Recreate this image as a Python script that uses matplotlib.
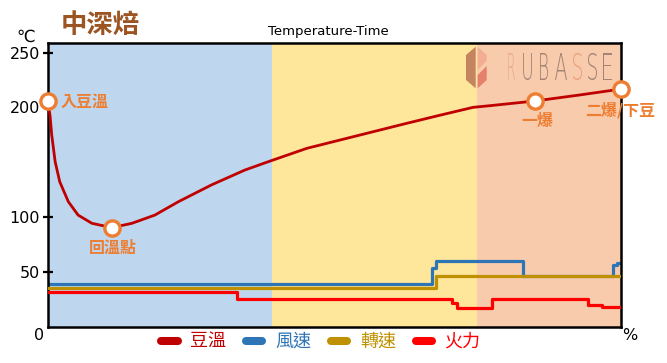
import matplotlib
matplotlib.use("Agg")
import matplotlib.pyplot as plt
from matplotlib.lines import Line2D
from matplotlib.patches import Polygon, PathPatch
from matplotlib.path import Path
from matplotlib.textpath import TextPath
from matplotlib.font_manager import FontProperties

plt.rcParams["font.family"] = ["DejaVu Sans", "Noto Sans CJK TC"]
CJK = ["Noto Sans CJK TC", "DejaVu Sans"]

W, H = 667, 363

# 豆溫 (bean temperature) curve, x in % of roast, y in ℃
bean_x = [0, 0.4, 0.7, 1.3, 2.1, 3.6, 5.3, 7.7, 11.2, 14.7, 18.7, 22.8, 28.6,
          34.4, 38.8, 45.2, 51.0, 56.8, 62.6, 68.4, 74.2, 77.1, 85.0, 92.8, 100]
bean_y = [205.5, 193.0, 174.8, 150.4, 132.1, 113.9, 101.7, 94.2, 90.2, 94.2,
          101.7, 113.9, 129.3, 142.8, 151.0, 162.6, 170.2, 177.8, 185.4,
          192.8, 200.0, 201.5, 205.8, 211.3, 216.7]

# 風速 (fan speed), step series
fan_x = [0, 67.0, 67.7, 82.9, 98.6, 99.3, 100]
fan_y = [38.8, 53.4, 59.8, 46.1, 56.1, 57.9, 57.9]

# 轉速 (drum speed)
drum_x = [0, 67.7, 100]
drum_y = [35.1, 46.1, 46.1]

# 火力 (heat)
heat_x = [0, 33.0, 70.5, 71.4, 77.5, 94.3, 96.7, 100]
heat_y = [31.5, 25.1, 21.4, 16.9, 25.1, 19.6, 17.8, 17.8]

# roast phases (background bands)
phase_edges = [0, 39.1, 74.9, 100]
phase_colors = ["#bfd7ee", "#fee69a", "#f8cbad"]

# key events on the bean curve
events = [("入豆溫", 0, 205.5, (13, 0), "left"),
          ("回溫點", 11.2, 90.2, (1, -20), "center"),
          ("一爆", 85.0, 205.8, (2, -20), "center"),
          ("二爆/下豆", 100, 216.7, (-1, -21), "center")]

yticks = [50, 100, 200, 250]

c_bean, c_fan, c_drum, c_heat = "#c00000", "#2e75b6", "#bf9000", "#ff0000"
c_event = "#ed7d31"

fig = plt.figure(figsize=(W / 100, H / 100), dpi=100)
ax = fig.add_axes([47.7 / W, 1 - 326.5 / H, 573.3 / W, 283.8 / H])

for i, col in enumerate(phase_colors):
    ax.axvspan(phase_edges[i], phase_edges[i + 1], color=col, lw=0, zorder=0)

ax.plot(fan_x, fan_y, drawstyle="steps-post", color=c_fan, lw=2.3, zorder=2)
ax.plot(drum_x, drum_y, drawstyle="steps-post", color=c_drum, lw=2.3, zorder=3)
ax.plot(heat_x, heat_y, drawstyle="steps-post", color=c_heat, lw=2.3, zorder=3)
ax.plot(bean_x, bean_y, color=c_bean, lw=2.0, zorder=4,
        solid_joinstyle="round")

for label, ex, ey, off, ha in events:
    ax.plot(ex, ey, "o", ms=11, mfc="white", mec=c_event, mew=2.4,
            zorder=6, clip_on=False)
    ax.annotate(label, (ex, ey), xytext=off, textcoords="offset pixels",
                ha=ha, va="center", color=c_event, fontsize=11.5,
                fontweight="bold", family=CJK, zorder=7,
                annotation_clip=False)

ax.set_xlim(0, 100)
ax.set_ylim(0, 259)
ax.set_xticks([])
ax.set_yticks(yticks)
ax.tick_params(axis="y", direction="inout", length=7, width=1.6,
               labelsize=11.5, pad=2)
for sp in ax.spines.values():
    sp.set_linewidth(1.8)
    sp.set_color("black")

# overlay in pixel coordinates for the free texts and the watermark
ov = fig.add_axes([0, 0, 1, 1])
ov.set_xlim(0, W)
ov.set_ylim(H, 0)
ov.axis("off")
ov.patch.set_visible(False)

ov.text(100, 25, "中深焙", ha="center", va="center", fontsize=19,
        fontweight="bold", color="#9c5522", family=CJK)
ov.text(328, 31, "Temperature-Time", ha="center", va="center", fontsize=9.5)
ov.text(26, 37, "℃", ha="center", va="center", fontsize=12)
ov.text(39, 335, "0", ha="center", va="center", fontsize=11.5)
ov.text(630, 335, "%", ha="center", va="center", fontsize=11.5)

# RUBASSE watermark: icon
ov.add_patch(Polygon([(475.7, 46.7), (466, 55), (466, 80), (475.7, 88.3)],
                     closed=True, color="#c58460", lw=0, zorder=5))
ov.add_patch(Polygon([(477.7, 46.7), (486.7, 55), (486.7, 61), (477.7, 70)],
                     closed=True, color="#f2ad94", lw=0, zorder=5))
ov.add_patch(Polygon([(477.7, 75), (486.7, 66), (486.7, 80), (477.7, 88.3)],
                     closed=True, color="#e4806c", lw=0, zorder=5))

# RUBASSE watermark: tall thin letters
letters = [("R", 508, 515, "#e7a58f"), ("U", 523, 532, "#94776b"),
           ("B", 540, 548, "#94776b"), ("A", 555, 567, "#94776b"),
           ("S", 573, 582, "#e8997a"), ("S", 588, 597, "#94776b"),
           ("E", 603, 612, "#94776b")]
fp = FontProperties(family="DejaVu Sans", weight="light")
for ch, x0, x1, col in letters:
    tp = TextPath((0, 0), ch, size=1, prop=fp)
    v = tp.vertices.copy()
    ext = tp.get_extents()
    v[:, 0] = x0 + (v[:, 0] - ext.x0) / ext.width * (x1 - x0)
    v[:, 1] = 80 - (v[:, 1] - ext.y0) / ext.height * 27
    ov.add_patch(PathPatch(Path(v, tp.codes), color=col, lw=0, alpha=0.85,
                           zorder=5))

handles = [Line2D([], [], color=c, lw=5.8, solid_capstyle="round")
           for c in (c_bean, c_fan, c_drum, c_heat)]
fig.legend(handles, ["豆溫", "風速", "轉速", "火力"], loc="center",
           bbox_to_anchor=(321 / W, 1 - 342 / H), ncol=4, frameon=False,
           handlelength=0.9, handletextpad=0.7, columnspacing=1.1,
           labelcolor=[c_bean, c_fan, c_drum, c_heat],
           prop=FontProperties(family=CJK, size=13))

fig.savefig("out.png", dpi=100)
